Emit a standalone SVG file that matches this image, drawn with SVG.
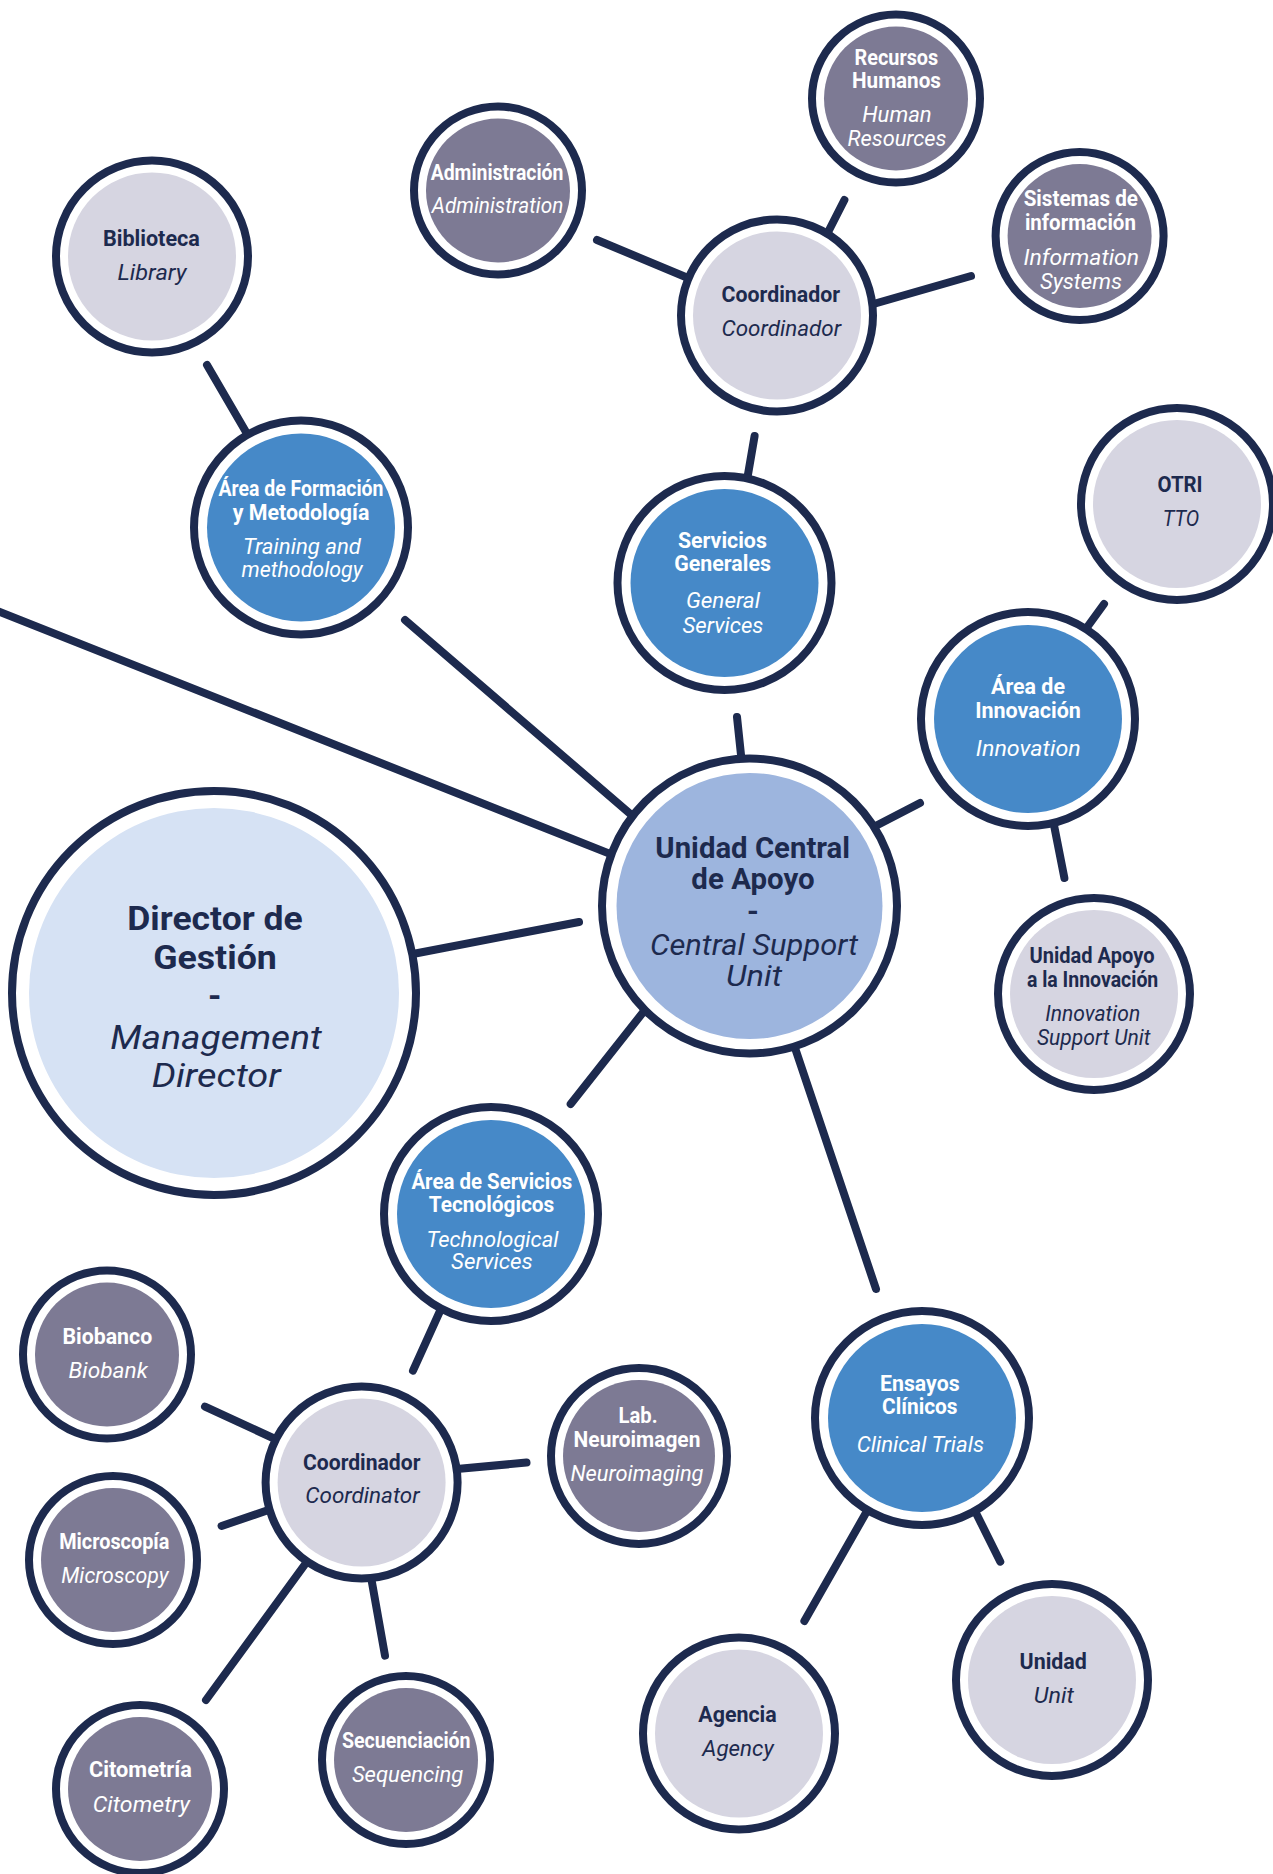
<svg xmlns="http://www.w3.org/2000/svg" width="1273" height="1874" viewBox="0 0 1273 1874">
<style>
.ring{fill:#fff;stroke:#1d2a4e;stroke-width:8}
.gray{fill:#d6d5e1}.purple{fill:#7d7a94}.blue{fill:#4689c8}.uc{fill:#9db5de}.dir{fill:#d6e2f4}
text{font-family:Roboto,"Open Sans","Liberation Sans",sans-serif;font-size:22px;text-anchor:middle}
.b{font-weight:700}.i{font-style:italic;font-weight:400}
.dk{fill:#1d2a4e}.wt{fill:#fff}
.conn line{stroke:#1d2a4e;stroke-width:8;stroke-linecap:round}
</style>
<rect width="1273" height="1874" fill="#fff"/>
<g id="connectors" class="conn">
<line x1="207" y1="365" x2="253" y2="444"/>
<line x1="597" y1="240" x2="700" y2="283"/>
<line x1="844.4" y1="200" x2="822" y2="244"/>
<line x1="971" y1="276" x2="863" y2="307"/>
<line x1="754.6" y1="436" x2="745.5" y2="489"/>
<line x1="-20" y1="604" x2="622" y2="858.6"/>
<line x1="405" y1="620" x2="642" y2="824"/>
<line x1="737" y1="717" x2="742.6" y2="770"/>
<line x1="920" y1="803" x2="864" y2="832"/>
<line x1="1104" y1="604" x2="1080" y2="637"/>
<line x1="1064.4" y1="878" x2="1052" y2="815"/>
<line x1="579" y1="922" x2="405" y2="955.5"/>
<line x1="570.7" y1="1104" x2="652" y2="1001"/>
<line x1="876" y1="1289" x2="791" y2="1036"/>
<line x1="413" y1="1370.7" x2="445" y2="1300"/>
<line x1="205" y1="1406.7" x2="286" y2="1444"/>
<line x1="221.6" y1="1526" x2="280" y2="1506"/>
<line x1="206" y1="1700" x2="314" y2="1552"/>
<line x1="385" y1="1655.6" x2="369.4" y2="1568"/>
<line x1="526.5" y1="1462.6" x2="446" y2="1470"/>
<line x1="804.4" y1="1621" x2="873" y2="1500.6"/>
<line x1="1000.3" y1="1561.7" x2="969" y2="1499"/>
</g>
<g id="biblioteca">
<circle class="ring" cx="152" cy="256.5" r="96"/><circle class="gray" cx="152" cy="256.5" r="84"/>
<text class="b dk" x="151.4" y="246" textLength="97" lengthAdjust="spacingAndGlyphs">Biblioteca</text>
<text class="i dk" x="152" y="280" textLength="69" lengthAdjust="spacingAndGlyphs">Library</text>
</g>
<g id="administracion">
<circle class="ring" cx="498" cy="190.5" r="84"/><circle class="purple" cx="498" cy="190.5" r="72"/>
<text class="b wt" x="497" y="179.6" textLength="132.7" lengthAdjust="spacingAndGlyphs">Administración</text>
<text class="i wt" x="497.5" y="213" textLength="131.5" lengthAdjust="spacingAndGlyphs">Administration</text>
</g>
<g id="recursos-humanos">
<circle class="ring" cx="896" cy="98.5" r="84"/><circle class="purple" cx="896" cy="98.5" r="72"/>
<text class="b wt" x="896.4" y="65.3" textLength="83.7" lengthAdjust="spacingAndGlyphs">Recursos</text>
<text class="b wt" x="896.5" y="87.8" textLength="89" lengthAdjust="spacingAndGlyphs">Humanos</text>
<text class="i wt" x="897" y="122.4" textLength="69.4" lengthAdjust="spacingAndGlyphs">Human</text>
<text class="i wt" x="897" y="146" textLength="99" lengthAdjust="spacingAndGlyphs">Resources</text>
</g>
<g id="coordinador-top">
<circle class="ring" cx="777" cy="315.5" r="96"/><circle class="gray" cx="777" cy="315.5" r="84"/>
<text class="b dk" x="780.8" y="302" textLength="118.4" lengthAdjust="spacingAndGlyphs">Coordinador</text>
<text class="i dk" x="781.3" y="336" textLength="119.6" lengthAdjust="spacingAndGlyphs">Coordinador</text>
</g>
<g id="sistemas">
<circle class="ring" cx="1079.6" cy="236" r="84"/><circle class="purple" cx="1079.6" cy="236" r="72"/>
<text class="b wt" x="1080.8" y="206" textLength="114.3" lengthAdjust="spacingAndGlyphs">Sistemas de</text>
<text class="b wt" x="1080.4" y="229.8" textLength="111" lengthAdjust="spacingAndGlyphs">información</text>
<text class="i wt" x="1081.3" y="264.5" textLength="115.5" lengthAdjust="spacingAndGlyphs">Information</text>
<text class="i wt" x="1081" y="288.6" textLength="82" lengthAdjust="spacingAndGlyphs">Systems</text>
</g>
<g id="otri">
<circle class="ring" cx="1177" cy="504" r="96"/><circle class="gray" cx="1177" cy="504" r="84"/>
<text class="b dk" x="1180" y="491.8" textLength="45" lengthAdjust="spacingAndGlyphs">OTRI</text>
<text class="i dk" x="1181" y="525.7" textLength="36.7" lengthAdjust="spacingAndGlyphs">TTO</text>
</g>
<g id="formacion">
<circle class="ring" cx="301" cy="527.5" r="107"/><circle class="blue" cx="301" cy="527.5" r="94"/>
<text class="b wt" x="301" y="496" textLength="165" lengthAdjust="spacingAndGlyphs">Área de Formación</text>
<text class="b wt" x="301" y="519.6" textLength="136.7" lengthAdjust="spacingAndGlyphs">y Metodología</text>
<text class="i wt" x="302" y="554" textLength="118" lengthAdjust="spacingAndGlyphs">Training and</text>
<text class="i wt" x="302" y="577" textLength="121" lengthAdjust="spacingAndGlyphs">methodology</text>
</g>
<g id="servicios-generales">
<circle class="ring" cx="724.5" cy="583" r="107"/><circle class="blue" cx="724.5" cy="583" r="94"/>
<text class="b wt" x="722.4" y="548.2" textLength="89" lengthAdjust="spacingAndGlyphs">Servicios</text>
<text class="b wt" x="722.6" y="571.4" textLength="96.7" lengthAdjust="spacingAndGlyphs">Generales</text>
<text class="i wt" x="723" y="608" textLength="74" lengthAdjust="spacingAndGlyphs">General</text>
<text class="i wt" x="723" y="632.7" textLength="80.8" lengthAdjust="spacingAndGlyphs">Services</text>
</g>
<g id="innovacion">
<circle class="ring" cx="1028" cy="719" r="107"/><circle class="blue" cx="1028" cy="719" r="94"/>
<text class="b wt" x="1028" y="694.3" textLength="74" lengthAdjust="spacingAndGlyphs">Área de</text>
<text class="b wt" x="1028" y="718" textLength="105.7" lengthAdjust="spacingAndGlyphs">Innovación</text>
<text class="i wt" x="1028.3" y="755.5" textLength="105" lengthAdjust="spacingAndGlyphs">Innovation</text>
</g>
<g id="unidad-central">
<circle class="ring" cx="749.5" cy="906" r="147.5"/><circle class="uc" cx="749.5" cy="906" r="133"/>
<text class="b dk" style="font-size:30px" x="752.7" y="858" textLength="194.7" lengthAdjust="spacingAndGlyphs">Unidad Central</text>
<text class="b dk" style="font-size:30px" x="753" y="889.4" textLength="123.3" lengthAdjust="spacingAndGlyphs">de Apoyo</text>
<text class="b dk" style="font-size:30px" x="753" y="921">-</text>
<text class="i dk" style="font-size:30px" x="754" y="954.7" textLength="208" lengthAdjust="spacingAndGlyphs">Central Support</text>
<text class="i dk" style="font-size:30px" x="754" y="986" textLength="56" lengthAdjust="spacingAndGlyphs">Unit</text>
</g>
<g id="director">
<circle class="ring" cx="214" cy="993" r="202"/><circle class="dir" cx="214" cy="993" r="185"/>
<text class="b dk" style="font-size:34px" x="215" y="930.2" textLength="175.5" lengthAdjust="spacingAndGlyphs">Director de</text>
<text class="b dk" style="font-size:34px" x="215" y="969" textLength="123.7" lengthAdjust="spacingAndGlyphs">Gestión</text>
<text class="b dk" style="font-size:34px" x="214.7" y="1007">-</text>
<text class="i dk" style="font-size:34px" x="216" y="1048.6" textLength="211.4" lengthAdjust="spacingAndGlyphs">Management</text>
<text class="i dk" style="font-size:34px" x="216.3" y="1087.3" textLength="129" lengthAdjust="spacingAndGlyphs">Director</text>
</g>
<g id="unidad-apoyo">
<circle class="ring" cx="1094" cy="994" r="96"/><circle class="gray" cx="1094" cy="994" r="84"/>
<text class="b dk" x="1092" y="963" textLength="125" lengthAdjust="spacingAndGlyphs">Unidad Apoyo</text>
<text class="b dk" x="1092.6" y="987.3" textLength="131.4" lengthAdjust="spacingAndGlyphs">a la Innovación</text>
<text class="i dk" x="1092.7" y="1021.2" textLength="95" lengthAdjust="spacingAndGlyphs">Innovation</text>
<text class="i dk" x="1093.7" y="1044.5" textLength="113.5" lengthAdjust="spacingAndGlyphs">Support Unit</text>
</g>
<g id="servicios-tecnologicos">
<circle class="ring" cx="491" cy="1214" r="107"/><circle class="blue" cx="491" cy="1214" r="94"/>
<text class="b wt" x="491.8" y="1188.6" textLength="160.8" lengthAdjust="spacingAndGlyphs">Área de Servicios</text>
<text class="b wt" x="491.5" y="1211.8" textLength="125.7" lengthAdjust="spacingAndGlyphs">Tecnológicos</text>
<text class="i wt" x="492.5" y="1246.5" textLength="131.8" lengthAdjust="spacingAndGlyphs">Technological</text>
<text class="i wt" x="491.9" y="1268.7" textLength="81.6" lengthAdjust="spacingAndGlyphs">Services</text>
</g>
<g id="biobanco">
<circle class="ring" cx="107" cy="1354.5" r="84"/><circle class="purple" cx="107" cy="1354.5" r="72"/>
<text class="b wt" x="107.3" y="1344.2" textLength="89.8" lengthAdjust="spacingAndGlyphs">Biobanco</text>
<text class="i wt" x="108.2" y="1377.7" textLength="79.2" lengthAdjust="spacingAndGlyphs">Biobank</text>
</g>
<g id="coordinador-bottom">
<circle class="ring" cx="361.6" cy="1482.5" r="96"/><circle class="gray" cx="361.6" cy="1482.5" r="84"/>
<text class="b dk" x="361.7" y="1470" textLength="117.5" lengthAdjust="spacingAndGlyphs">Coordinador</text>
<text class="i dk" x="362.5" y="1503.4" textLength="114.3" lengthAdjust="spacingAndGlyphs">Coordinator</text>
</g>
<g id="neuroimagen">
<circle class="ring" cx="639" cy="1456" r="88"/><circle class="purple" cx="639" cy="1456" r="76"/>
<text class="b wt" x="638" y="1423" textLength="39" lengthAdjust="spacingAndGlyphs">Lab.</text>
<text class="b wt" x="637" y="1447" textLength="126.8" lengthAdjust="spacingAndGlyphs">Neuroimagen</text>
<text class="i wt" x="637" y="1481" textLength="133" lengthAdjust="spacingAndGlyphs">Neuroimaging</text>
</g>
<g id="microscopia">
<circle class="ring" cx="113" cy="1560" r="84"/><circle class="purple" cx="113" cy="1560" r="72"/>
<text class="b wt" x="114.3" y="1549.1" textLength="110.2" lengthAdjust="spacingAndGlyphs">Microscopía</text>
<text class="i wt" x="114.9" y="1583" textLength="107.3" lengthAdjust="spacingAndGlyphs">Microscopy</text>
</g>
<g id="citometria">
<circle class="ring" cx="140" cy="1789" r="84"/><circle class="purple" cx="140" cy="1789" r="72"/>
<text class="b wt" x="140.4" y="1777" textLength="102.8" lengthAdjust="spacingAndGlyphs">Citometría</text>
<text class="i wt" x="141.3" y="1811.6" textLength="97.1" lengthAdjust="spacingAndGlyphs">Citometry</text>
</g>
<g id="secuenciacion">
<circle class="ring" cx="406" cy="1760" r="84"/><circle class="purple" cx="406" cy="1760" r="72"/>
<text class="b wt" x="406.3" y="1747.5" textLength="128.6" lengthAdjust="spacingAndGlyphs">Secuenciación</text>
<text class="i wt" x="407.6" y="1782" textLength="111.4" lengthAdjust="spacingAndGlyphs">Sequencing</text>
</g>
<g id="ensayos">
<circle class="ring" cx="922" cy="1418" r="107"/><circle class="blue" cx="922" cy="1418" r="94"/>
<text class="b wt" x="919.8" y="1391" textLength="79.6" lengthAdjust="spacingAndGlyphs">Ensayos</text>
<text class="b wt" x="919.8" y="1413.6" textLength="75.5" lengthAdjust="spacingAndGlyphs">Clínicos</text>
<text class="i wt" x="920.4" y="1452.4" textLength="127.3" lengthAdjust="spacingAndGlyphs">Clinical Trials</text>
</g>
<g id="agencia">
<circle class="ring" cx="739" cy="1733.5" r="96"/><circle class="gray" cx="739" cy="1733.5" r="84"/>
<text class="b dk" x="737.5" y="1721.7" textLength="78.4" lengthAdjust="spacingAndGlyphs">Agencia</text>
<text class="i dk" x="738" y="1755.6" textLength="71.4" lengthAdjust="spacingAndGlyphs">Agency</text>
</g>
<g id="unidad">
<circle class="ring" cx="1052" cy="1680" r="96"/><circle class="gray" cx="1052" cy="1680" r="84"/>
<text class="b dk" x="1053.2" y="1668.7" textLength="67.3" lengthAdjust="spacingAndGlyphs">Unidad</text>
<text class="i dk" x="1053.8" y="1702.6" textLength="40" lengthAdjust="spacingAndGlyphs">Unit</text>
</g>
</svg>
